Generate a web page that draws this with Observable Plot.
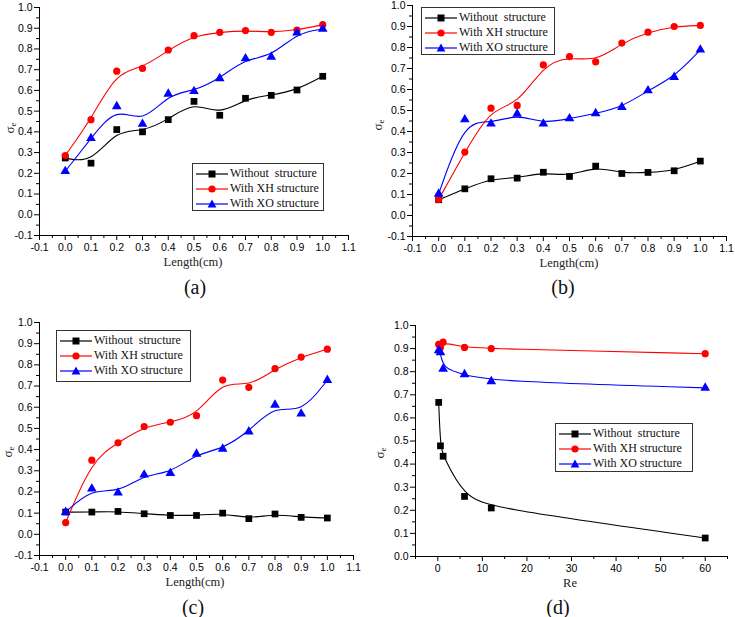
<!DOCTYPE html>
<html>
<head>
<meta charset="utf-8">
<script src="https://cdn.jsdelivr.net/npm/d3@7"></script>
<script src="https://cdn.jsdelivr.net/npm/@observablehq/plot@0.6"></script>
<style>
  body { margin: 0; background: #fff; }
  #root { position: relative; width: 735px; height: 617px; background: #fff; overflow: hidden; }
  .pnl { position: absolute; }
  .legend { position: absolute; border: 1px solid #333; background: #fff; box-sizing: border-box;
            font-family: "Liberation Serif", "Times New Roman", serif; font-size: 12px; color: #111; padding: 2px 0 0 3px; }
  .row { display: flex; align-items: center; height: 15px; white-space: pre; }
  .row svg { margin-right: 2px; flex: none; }
  .xlab { position: absolute; font-family: "Liberation Serif", "Times New Roman", serif; font-size: 12.5px; color: #222;
          transform: translate(-50%, -50%); white-space: nowrap; }
  .ylab { position: absolute; font-family: "Liberation Serif", "Times New Roman", serif; font-size: 13px; color: #222;
          transform: translate(-50%, -50%) rotate(-90deg); white-space: nowrap; }
  .ylab sub { font-size: 9px; vertical-align: -2px; }
  .cap { position: absolute; font-family: "Liberation Serif", "Times New Roman", serif; font-size: 20px; color: #111;
         transform: translate(-50%, -50%); white-space: nowrap; }
</style>
</head>
<body>
<div id="root"></div>
<script>
// ---------- data ----------
const seriesNames = ["Without  structure", "With XH structure", "With XO structure"];
const seriesColors = ["#000000", "#ff0000", "#0000ff"];
const seriesSymbols = ["square", "circle", "triangle"];

const lengths = [0.0, 0.1, 0.2, 0.3, 0.4, 0.5, 0.6, 0.7, 0.8, 0.9, 1.0];
const lengthTicks = [-0.1, 0.0, 0.1, 0.2, 0.3, 0.4, 0.5, 0.6, 0.7, 0.8, 0.9, 1.0, 1.1];
const sigmaTicksLen = [-0.1, 0.0, 0.1, 0.2, 0.3, 0.4, 0.5, 0.6, 0.7, 0.8, 0.9, 1.0];
const sigmaTicksRe = [0.0, 0.1, 0.2, 0.3, 0.4, 0.5, 0.6, 0.7, 0.8, 0.9, 1.0];
const reTicks = [0, 10, 20, 30, 40, 50, 60];

// (a)
const aWithout = [0.274, 0.249, 0.411, 0.400, 0.459, 0.547, 0.480, 0.562, 0.576, 0.602, 0.668];
const aXH      = [0.286, 0.459, 0.693, 0.706, 0.795, 0.864, 0.880, 0.889, 0.880, 0.891, 0.917];
const aXO      = [0.210, 0.369, 0.523, 0.438, 0.583, 0.596, 0.658, 0.754, 0.762, 0.878, 0.896];
// (b)
const bWithout = [0.075, 0.127, 0.175, 0.178, 0.206, 0.186, 0.235, 0.200, 0.205, 0.213, 0.259];
const bXH      = [0.076, 0.302, 0.511, 0.524, 0.717, 0.757, 0.732, 0.821, 0.873, 0.900, 0.905];
const bXO      = [0.103, 0.457, 0.437, 0.484, 0.437, 0.462, 0.486, 0.516, 0.595, 0.659, 0.789];
// (c)
const cWithout = [0.105, 0.105, 0.108, 0.097, 0.089, 0.089, 0.100, 0.074, 0.096, 0.080, 0.077];
const cXH      = [0.055, 0.350, 0.432, 0.509, 0.529, 0.560, 0.728, 0.694, 0.782, 0.837, 0.874];
const cXO      = [0.105, 0.215, 0.196, 0.281, 0.289, 0.380, 0.403, 0.485, 0.611, 0.569, 0.728];
// (d)
const reValues = [0.2, 0.6, 1.2, 6, 12, 60];
const dWithout = [0.667, 0.479, 0.434, 0.260, 0.210, 0.080];
const dXH      = [0.918, 0.905, 0.928, 0.905, 0.900, 0.878];
const dXO      = [0.892, 0.883, 0.812, 0.788, 0.758, 0.730];

// ---------- helpers ----------
const root = document.getElementById("root");
const mids = (t) => t.slice(0, -1).map((v, i) => (v + t[i + 1]) / 2);
const fmt1 = (d) => d.toFixed(1);

function makePanel(cfg) {
  const series = cfg.values.map((vals, i) => ({
    color: seriesColors[i], symbol: seriesSymbols[i],
    data: vals.map((y, j) => ({x: cfg.xs[j], y}))
  }));
  const marks = [
    Plot.ruleX([cfg.xDomain[0]], {stroke: "#000", strokeWidth: 1}),
    Plot.ruleY([cfg.yDomain[0]], {stroke: "#000", strokeWidth: 1}),
    Plot.axisX({ticks: cfg.xMinor, tickSize: 3, tickFormat: () => "", label: null}),
    Plot.axisX({ticks: cfg.xTicks, tickSize: 5, tickPadding: 3, tickFormat: cfg.xFmt, label: null}),
    Plot.axisY({ticks: mids(cfg.yTicks), tickSize: 3, tickFormat: () => "", label: null}),
    Plot.axisY({ticks: cfg.yTicks, tickSize: 5, tickPadding: 2, tickFormat: fmt1, label: null})
  ];
  series.forEach((s) => {
    marks.push(Plot.line(s.data, {x: "x", y: "y", stroke: s.color, strokeWidth: 1.1, curve: "basis"}));
  });
  series.forEach((s) => {
    marks.push(Plot.dot(s.data, {x: "x", y: "y", fill: s.color, stroke: "none", symbol: s.symbol,
                                 r: s.symbol === "square" ? 3.8 : s.symbol === "circle" ? 3.6 : 3.6}));
  });
  const svg = Plot.plot({
    width: cfg.width, height: cfg.height,
    marginLeft: cfg.mL, marginRight: cfg.mR, marginTop: cfg.mT, marginBottom: cfg.mB,
    x: {domain: cfg.xDomain, label: null},
    y: {domain: cfg.yDomain, label: null},
    style: {fontFamily: "'Liberation Sans', Arial, sans-serif", fontSize: "10.5px", color: "#000", background: "transparent", overflow: "visible"},
    marks
  });
  svg.classList.add("pnl");
  svg.style.left = cfg.left + "px";
  svg.style.top = cfg.top + "px";
  root.appendChild(svg);

  // legend
  const lg = document.createElement("div");
  lg.className = "legend";
  Object.assign(lg.style, {left: cfg.legend[0] + "px", top: cfg.legend[1] + "px", width: cfg.legend[2] + "px", height: cfg.legend[3] + "px"});
  seriesNames.forEach((name, i) => {
    const c = seriesColors[i];
    let m;
    if (seriesSymbols[i] === "square") m = `<rect x="12.5" y="1.5" width="7" height="7" fill="${c}"/>`;
    else if (seriesSymbols[i] === "circle") m = `<circle cx="16" cy="5" r="3.6" fill="${c}"/>`;
    else m = `<path d="M16,0.6 L20.4,8.6 L11.6,8.6 Z" fill="${c}"/>`;
    const row = document.createElement("div");
    row.className = "row";
    row.innerHTML = `<svg width="32" height="10"><line x1="0" y1="5" x2="32" y2="5" stroke="${c}" stroke-width="1.2"/>${m}</svg><span>${name}</span>`;
    lg.appendChild(row);
  });
  root.appendChild(lg);

  const xl = document.createElement("div");
  xl.className = "xlab"; xl.textContent = cfg.xLabel;
  xl.style.left = cfg.xLabelPos[0] + "px"; xl.style.top = cfg.xLabelPos[1] + "px";
  root.appendChild(xl);

  const yl = document.createElement("div");
  yl.className = "ylab"; yl.innerHTML = "σ<sub>e</sub>";
  yl.style.left = cfg.yLabelPos[0] + "px"; yl.style.top = cfg.yLabelPos[1] + "px";
  root.appendChild(yl);

  const cp = document.createElement("div");
  cp.className = "cap"; cp.textContent = cfg.caption;
  cp.style.left = cfg.capPos[0] + "px"; cp.style.top = cfg.capPos[1] + "px";
  root.appendChild(cp);
}

const lenCommon = {
  xs: lengths, xDomain: [-0.1, 1.1], yDomain: [-0.1, 1.0],
  xTicks: lengthTicks, xMinor: mids(lengthTicks), xFmt: fmt1, yTicks: sigmaTicksLen, xLabel: "Length(cm)"
};

makePanel({...lenCommon, values: [aWithout, aXH, aXO],
  left: 0, top: 0, width: 367, height: 258, mL: 39, mR: 19, mT: 7, mB: 23,
  legend: [192, 163, 132, 48], xLabelPos: [193, 262], yLabelPos: [10, 128], caption: "(a)", capPos: [195, 287]});

makePanel({...lenCommon, values: [bWithout, bXH, bXO],
  left: 365, top: 0, width: 370, height: 259, mL: 47, mR: 9, mT: 5, mB: 23,
  legend: [421, 7, 134, 48], xLabelPos: [569, 263], yLabelPos: [378, 125], caption: "(b)", capPos: [563, 287]});

makePanel({...lenCommon, values: [cWithout, cXH, cXO],
  left: 0, top: 305, width: 367, height: 273, mL: 39, mR: 14, mT: 17, mB: 23,
  legend: [56, 330, 135, 52], xLabelPos: [195, 582], yLabelPos: [8, 452], caption: "(c)", capPos: [193, 607]});

makePanel({values: [dWithout, dXH, dXO], xs: reValues,
  xDomain: [-5, 65], yDomain: [0, 1.0], xTicks: reTicks, xMinor: [-5, 5, 15, 25, 35, 45, 55, 65], xFmt: (d) => String(d),
  yTicks: sigmaTicksRe, xLabel: "Re",
  left: 365, top: 305, width: 370, height: 274, mL: 50, mR: 8, mT: 20, mB: 23,
  legend: [555, 423, 138, 49], xLabelPos: [570, 583], yLabelPos: [380, 453], caption: "(d)", capPos: [558, 607]});
</script>
</body>
</html>
